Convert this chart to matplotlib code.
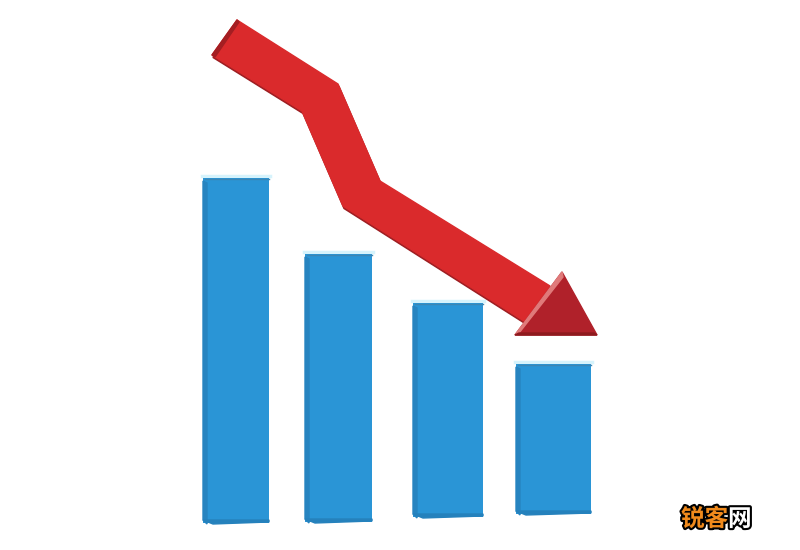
import matplotlib
matplotlib.use("Agg")
import matplotlib.pyplot as plt
import matplotlib.patheffects as pe
from matplotlib.patches import Polygon
import numpy as np

# Data (pixel units: bar top, bar bottom)
categories = ["A", "B", "C", "D"]
bar_tops = [178, 254, 303, 364]
bar_bottoms = [523, 522, 517, 514]

# arrow shaft: upper edge and lower edge points
arrow_upper = [(237, 20), (338, 84), (380, 181), (550, 286)]
arrow_lower = [(212, 55), (302, 111), (343, 206), (524, 321)]
arrow_head = [(562, 272), (597, 335), (515, 335)]

watermark = ["锐客", "网"]

# Layout
bar_left = [203, 305, 413, 516]
bar_width = [66, 67, 70, 75]

fig = plt.figure(figsize=(8, 5.5), dpi=100)
ax = fig.add_axes([0, 0, 1, 1])
ax.set_xlim(0, 800)
ax.set_ylim(550, 0)
ax.axis("off")

# Bars
heights = [b - t for t, b in zip(bar_tops, bar_bottoms)]
ax.bar(bar_left, [-h for h in heights], bottom=bar_bottoms, width=bar_width,
       align="edge", color="#2A95D6", edgecolor="none", zorder=2)
for x, w, t, b in zip(bar_left, bar_width, bar_tops, bar_bottoms):
    # darker left side strip
    ax.add_patch(Polygon([(x, t + 3), (x + 4, t + 5), (x + 4, b + 1), (x, b - 3)],
                         closed=True, color="#2784C0", zorder=3))
    # top rim
    ax.plot([x + 2, x + w], [t + 0.5, t + 0.5], color="#3C86B4", lw=1.0, zorder=3)
    ax.plot([x - 1, x + w + 1], [t - 2, t - 2], color="#D6F3FC", lw=2.5, zorder=1)
    # bottom bevel
    ax.add_patch(Polygon([(x, b - 3), (x + 10, b + 1), (x + w, b - 1), (x + w, b - 3)],
                         closed=True, color="#2581BC", zorder=3))

# Arrow shaft with 3D thickness
shaft = arrow_upper + arrow_lower[::-1]
shadow = [(px + 1, py + 2.5) for px, py in shaft]
ax.add_patch(Polygon(shadow, closed=True, color="#9E1E22", zorder=4))
ax.add_patch(Polygon(shaft, closed=True, color="#DA2A2C", zorder=5))
# darker tail face
ax.add_patch(Polygon([arrow_upper[0], arrow_lower[0], (arrow_lower[0][0] + 3, arrow_lower[0][1] + 2),
                      (arrow_upper[0][0] + 2, arrow_upper[0][1] + 2)],
                     closed=True, color="#A41E22", zorder=6))

# Arrow head
hx, hy = zip(*arrow_head)
ax.add_patch(Polygon([(hx[0], hy[0]), (hx[1], hy[1]), (hx[2], hy[2])],
                     closed=True, color="#B0212A", zorder=6))
ax.add_patch(Polygon([(hx[0], hy[0]), (hx[2], hy[2]), (hx[2] + 4, hy[2] - 2), (hx[0] + 1, hy[0] + 5)],
                     closed=True, color="#E07A7A", zorder=7))
ax.add_patch(Polygon([(hx[2], hy[2]), (hx[1], hy[1]), (hx[1] - 3, hy[1] - 2), (hx[2] + 4, hy[2] - 2)],
                     closed=True, color="#8E1A1E", zorder=7))

# Watermark
stroke = [pe.withStroke(linewidth=3, foreground="black")]
ax.text(681, 519, watermark[0], fontsize=17, color="#F08A1C", fontweight="bold",
        family=["Noto Sans CJK SC", "DejaVu Sans"], va="center", ha="left",
        path_effects=stroke, zorder=8)
ax.text(728, 519, watermark[1], fontsize=17, color="white", fontweight="bold",
        family=["Noto Sans CJK SC", "DejaVu Sans"], va="center", ha="left",
        path_effects=stroke, zorder=8)

fig.savefig("out.png", dpi=100, facecolor="white")
